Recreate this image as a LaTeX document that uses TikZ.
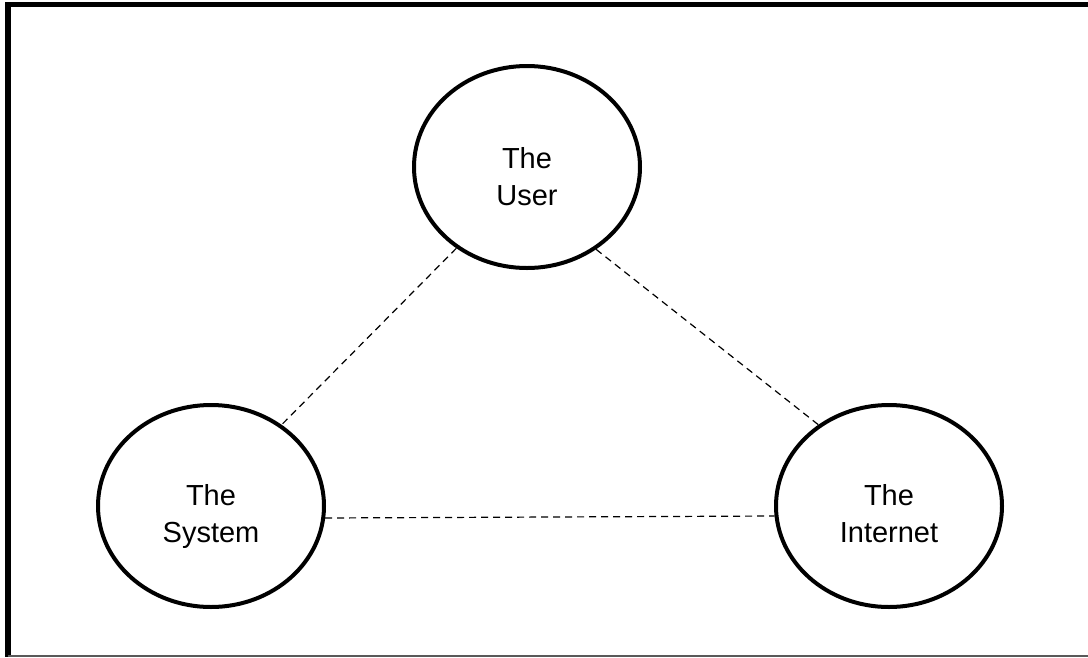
\documentclass[tikz,border=0pt]{standalone}
\usepackage{fontspec}
\setmainfont{Liberation Sans}
\usetikzlibrary{shapes.geometric}
\begin{document}
\begin{tikzpicture}[x=1pt,y=-1pt,
  circ/.style={ellipse,draw=black,line width=4pt,minimum width=226pt,minimum height=202pt,inner sep=0pt},
  lbl/.style={align=center,anchor=base,font=\fontsize{29}{37}\selectfont},
  link/.style={draw=black,line width=1.2pt,dash pattern=on 7pt off 5pt}]
\useasboundingbox (0,0) rectangle (1088,657);
% frame
\coordinate (ftr) at (1088,4.5);
\coordinate (ftl) at (8,4.5);
\coordinate (fbl) at (8,657);
\coordinate (gbl) at (8,656);
\coordinate (gbr) at (1088,656);
\draw[line width=5.5pt] (ftr) -- (ftl) -- (fbl);
\draw[line width=1.5pt,draw=black!65] (gbl) -- (gbr);
% nodes
\node[circ] (u) at (527,167) {};
\node[circ] (s) at (211,506) {};
\node[circ] (i) at (889,506) {};
\node[lbl] (ut) at (527,205) {The\\User};
\node[lbl] (st) at (211,542) {The\\System};
\node[lbl] (it) at (889,542) {The\\Internet};
% connectors
\draw[link] (u.229.7) -- (s.49);
\draw[link] (u.310.5) -- (i.131);
\draw[link] (s.354.4) -- (i.185.6);
\end{tikzpicture}
\end{document}
